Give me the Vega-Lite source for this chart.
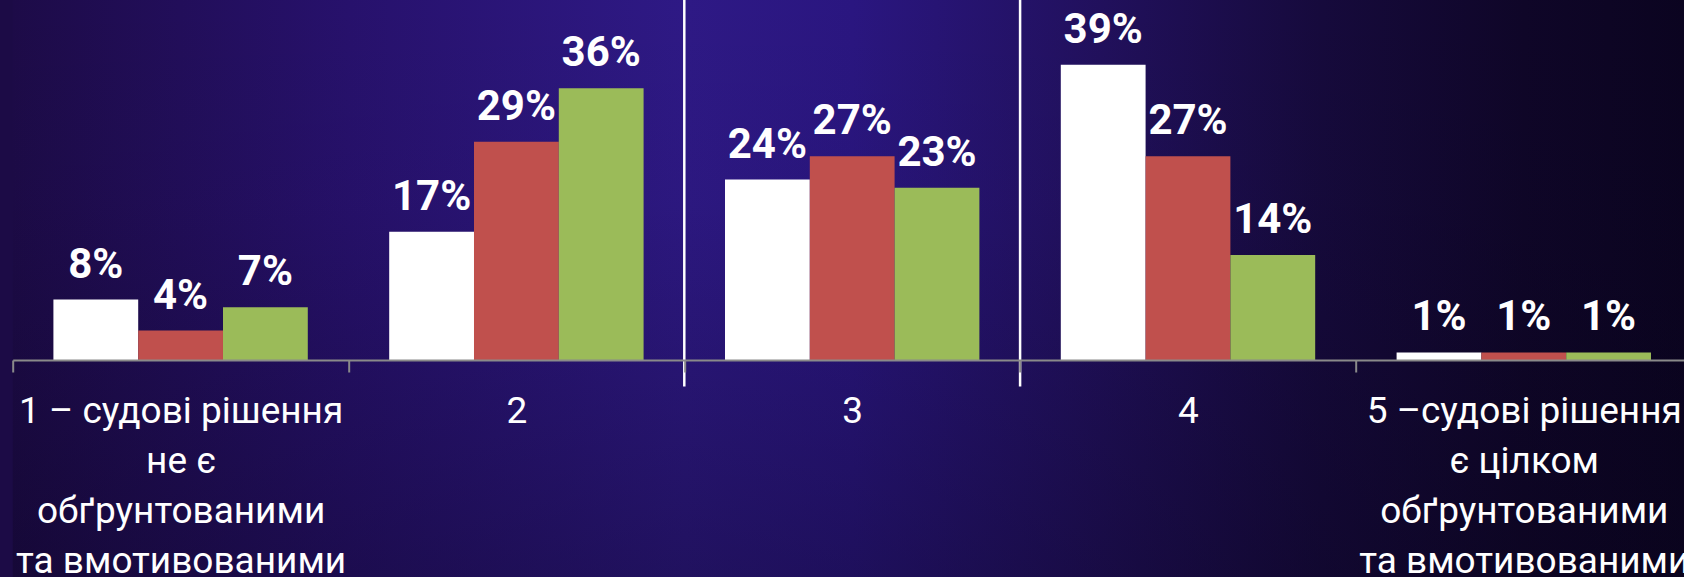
{
  "$schema": "https://vega.github.io/schema/vega-lite/v6.json",
  "autosize": {"type": "none"},
  "padding": {"left": 12.7, "top": 0, "right": 0, "bottom": 0},
  "width": 1679,
  "height": 577,
  "background": "#1c0b46",
  "view": {
    "stroke": null,
    "fill": {
      "gradient": "linear",
      "x1": 0, "y1": 0, "x2": 1, "y2": 0,
      "stops": [
        {"offset": 0, "color": "#1d0b48"},
        {"offset": 0.2, "color": "#27116c"},
        {"offset": 0.4, "color": "#2e1985"},
        {"offset": 0.5, "color": "#2a1680"},
        {"offset": 0.65, "color": "#21105c"},
        {"offset": 0.78, "color": "#160a3c"},
        {"offset": 0.9, "color": "#0f0628"},
        {"offset": 1, "color": "#0b0420"}
      ]
    }
  },
  "datasets": {
    "survey": [
      {"cat": "1 – судові рішення|не є|обґрунтованими|та вмотивованими", "series": "Ряд 1", "value": 0.08},
      {"cat": "1 – судові рішення|не є|обґрунтованими|та вмотивованими", "series": "Ряд 2", "value": 0.039},
      {"cat": "1 – судові рішення|не є|обґрунтованими|та вмотивованими", "series": "Ряд 3", "value": 0.07},
      {"cat": "2", "series": "Ряд 1", "value": 0.17},
      {"cat": "2", "series": "Ряд 2", "value": 0.289},
      {"cat": "2", "series": "Ряд 3", "value": 0.36},
      {"cat": "3", "series": "Ряд 1", "value": 0.239},
      {"cat": "3", "series": "Ряд 2", "value": 0.27},
      {"cat": "3", "series": "Ряд 3", "value": 0.228},
      {"cat": "4", "series": "Ряд 1", "value": 0.391},
      {"cat": "4", "series": "Ряд 2", "value": 0.27},
      {"cat": "4", "series": "Ряд 3", "value": 0.139},
      {"cat": "5 –судові рішення|є цілком|обґрунтованими|та вмотивованими", "series": "Ряд 1", "value": 0.01},
      {"cat": "5 –судові рішення|є цілком|обґрунтованими|та вмотивованими", "series": "Ряд 2", "value": 0.01},
      {"cat": "5 –судові рішення|є цілком|обґрунтованими|та вмотивованими", "series": "Ряд 3", "value": 0.01}
    ],
    "dividers": [
      {"cat": "3"},
      {"cat": "4"}
    ],
    "backdrop": [
      {"layer": "shade"}
    ]
  },
  "layer": [
    {
      "data": {"name": "backdrop"},
      "mark": {
        "type": "rect",
        "fill": {
          "gradient": "linear",
          "x1": 0, "y1": 0, "x2": 0, "y2": 1,
          "stops": [
            {"offset": 0, "color": "rgba(8,3,25,0)"},
            {"offset": 0.35, "color": "rgba(8,3,25,0.05)"},
            {"offset": 1, "color": "rgba(8,3,25,0.35)"}
          ]
        }
      },
      "encoding": {}
    },
    {
      "data": {"name": "survey"},
      "mark": {"type": "bar"},
      "encoding": {
        "x": {
          "field": "cat", "type": "nominal", "sort": null,
          "scale": {"paddingInner": 0, "paddingOuter": 0},
          "axis": {
            "title": null,
            "labelAngle": 0,
            "labelExpr": "split(datum.label, '|')",
            "labelFont": "Roboto",
            "labelFontSize": 37,
            "labelColor": "#ffffff",
            "labelLineHeight": 50,
            "labelPadding": 22,
            "labelLimit": 2000,
            "labelOverlap": false,
            "domainColor": "#8a8a8a",
            "domainWidth": 2,
            "tickColor": "#8a8a8a",
            "tickWidth": 2,
            "tickSize": 12,
            "tickBand": "extent",
            "offset": -217,
            "zindex": 1
          }
        },
        "xOffset": {
          "field": "series", "type": "nominal",
          "sort": ["Ряд 1", "Ряд 2", "Ряд 3"],
          "scale": {"paddingInner": 0, "paddingOuter": 0.48}
        },
        "y": {
          "field": "value", "type": "quantitative",
          "scale": {"domain": [-0.2874, 0.4768], "nice": false, "zero": false},
          "axis": null
        },
        "color": {
          "field": "series", "type": "nominal",
          "scale": {"domain": ["Ряд 1", "Ряд 2", "Ряд 3"], "range": ["#ffffff", "#c0504d", "#9bbb59"]},
          "legend": null
        }
      }
    },
    {
      "data": {"name": "survey"},
      "mark": {
        "type": "text",
        "font": "Roboto",
        "fontWeight": "bold",
        "fontSize": 42,
        "color": "#ffffff",
        "baseline": "alphabetic",
        "align": "center",
        "dy": -22
      },
      "encoding": {
        "x": {"field": "cat", "type": "nominal", "sort": null},
        "xOffset": {"field": "series", "type": "nominal", "sort": ["Ряд 1", "Ряд 2", "Ряд 3"]},
        "y": {"field": "value", "type": "quantitative"},
        "text": {"field": "value", "type": "quantitative", "format": ".0%"}
      }
    },
    {
      "data": {"name": "dividers"},
      "mark": {"type": "rule", "color": "#ffffff", "strokeWidth": 2.5},
      "encoding": {
        "x": {"field": "cat", "type": "nominal", "bandPosition": 0},
        "y": {"datum": 0.4768},
        "y2": {"datum": -0.035}
      }
    }
  ]
}
